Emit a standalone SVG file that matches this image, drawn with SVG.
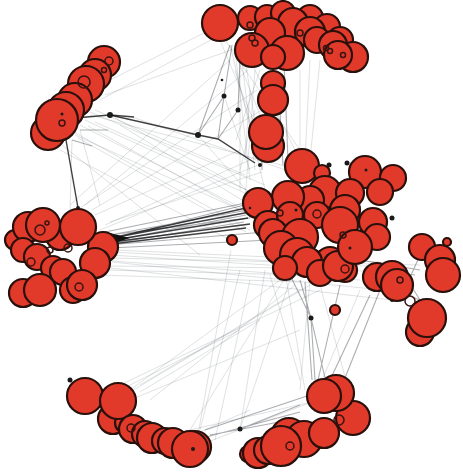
<svg xmlns="http://www.w3.org/2000/svg" width="463" height="472" viewBox="0 0 463 472">
<style>
.n{fill:#e1392a;stroke:#2a100b;stroke-width:2.2}
.r{fill:none;stroke:#3a1410;stroke-width:1.5}
.d{fill:#1a1a1a}
.e{stroke:#1e2a34;stroke-opacity:0.16;stroke-width:0.9;fill:none}
.m{stroke:#101820;stroke-opacity:0.35;stroke-width:1.1;fill:none}
.b{stroke:#000;stroke-opacity:0.75;stroke-width:1.4;fill:none}
</style>
<rect width="463" height="472" fill="#fff"/>
<g id="edges">
<!-- left cluster to right-center bundle -->
<path class="b" d="M112 238L250 212M114 240L248 218M112 242L250 224M116 237L255 206M112 244L246 228"/>
<path class="m" d="M105 232L260 200M108 245L265 232M110 248L270 240M100 236L250 218M115 234L248 210M110 241L246 215M112 239L252 203M115 243L244 222"/>
<polygon points="102,231 130,238 102,247" fill="#111"/>
<path class="e" d="M110 255L378 272M112 262L382 290M108 266L300 268M105 270L340 276M115 250L380 262M110 258L420 265M100 275L300 282M110 268L392 300M112 252L400 268M100 260L360 280"/>
<!-- top-left hub -->
<path class="b" d="M75 118L110 115L198 135L218 139L255 163"/>
<path class="b" d="M110 115L134 117" stroke-width="2.5"/>
<path class="b" d="M66 140L78 208" stroke-width="1.6"/>
<path class="m" d="M198 135L224 96L232 45M218 139L224 96M218 139L238 110L240 60M198 135L230 45M80 130L108 130M72 140L92 146"/>
<path class="e" d="M85 120L260 200M80 125L255 215M70 130L250 230M90 112L265 185M95 110L245 175M75 135L240 210M100 100L220 35M105 95L245 45M110 80L210 30M90 115L300 170M72 140L70 210M80 130L100 205M198 135L255 200M224 96L250 170M95 122L258 195M88 126L262 222M78 138L246 232M100 230L258 165M105 225L250 160M110 222L262 172M95 215L240 150M80 208L257 90M85 205L248 70M92 210L262 110M70 205L230 60M115 118L246 190M120 125L250 205M62 145L200 255M60 150L230 240M132 117L300 175"/>
<!-- top cluster to center -->
<path class="m" d="M284 62L288 160M280 112L283 165M262 150L262 170"/>
<path class="e" d="M240 45L255 170M235 50L250 180M245 60L262 165M250 60L300 160M230 45L265 190M300 70L300 155M310 60L305 160M320 60L310 160M240 40L240 190M255 70L245 200M220 40L270 160M225 40L300 150M238 60L262 120M235 70L258 150M250 90L245 160M255 110L240 170M260 70L236 140"/>
<!-- right center to right cluster -->
<path class="m" d="M360 260L420 270M370 270L415 275M380 285L420 300M395 260L420 300M400 300L420 255"/>
<!-- center to bottom -->
<path class="m" d="M300 280L311 318L325 378M290 275L311 318L315 380M340 285L318 380M380 290L345 378M370 295L330 380M305 282L312 380"/>
<path class="e" d="M310 280L300 390M320 285L350 395M360 290L320 385M231 250L197 440M240 270L200 430M290 270L190 430M300 290L140 385M310 285L125 395M320 290L120 385M290 280L240 429M250 280L215 440M280 280L130 390M295 285L150 400M270 275L300 380M285 272L305 390M265 270L240 430"/>
<!-- bottom clusters -->
<path class="m" d="M195 440L300 412M210 435L290 420M240 429L300 405M205 430L310 395"/>
<path class="e" d="M200 445L330 395M190 430L320 400M130 400L300 330M200 432L250 410M120 390L240 330M140 392L260 320"/>
</g>
<g id="hubs">
<circle class="d" cx="110" cy="115" r="3"/>
<circle class="d" cx="198" cy="135" r="3"/>
<circle class="d" cx="224" cy="96" r="2.5"/>
<circle class="d" cx="238" cy="110" r="2.5"/>
<circle class="d" cx="222" cy="80" r="1.3"/>
<circle class="d" cx="78" cy="208" r="2"/>
<circle class="d" cx="311" cy="318" r="2.5"/>
<circle class="d" cx="240" cy="429" r="2.5"/>
<circle class="d" cx="70" cy="380" r="2.5"/>
<circle class="d" cx="329" cy="165" r="2.5"/>
<circle class="d" cx="347" cy="163" r="2.5"/>
<circle class="d" cx="260" cy="165" r="2"/>
<circle class="d" cx="392" cy="218" r="2.5"/>
<circle class="d" cx="392" cy="300" r="2"/>
</g>
<g id="cluster-topleft">
<circle class="n" cx="104" cy="62" r="16"/>
<circle class="n" cx="95" cy="75" r="16"/>
<circle class="n" cx="86" cy="84" r="18"/>
<circle class="n" cx="75" cy="100" r="17"/>
<circle class="n" cx="48" cy="133" r="17"/>
<circle class="n" cx="66" cy="110" r="18"/>
<circle class="n" cx="57" cy="120" r="21"/>
<circle class="r" cx="109" cy="61" r="4"/>
<circle class="r" cx="104" cy="70" r="2.5"/>
<circle class="r" cx="84" cy="82" r="6"/>
<circle class="r" cx="62" cy="123" r="3"/>
<circle class="d" cx="62" cy="114" r="1.5"/>
</g>
<g id="cluster-left">
<circle class="n" cx="15" cy="240" r="10"/>
<circle class="n" cx="28" cy="227" r="15"/>
<circle class="n" cx="60" cy="236" r="14"/>
<circle class="n" cx="103" cy="247" r="15"/>
<circle class="n" cx="43" cy="225" r="17"/>
<circle class="n" cx="78" cy="227" r="18"/>
<circle class="n" cx="23" cy="250" r="12"/>
<circle class="n" cx="37" cy="257" r="13"/>
<circle class="n" cx="53" cy="268" r="12"/>
<circle class="n" cx="63" cy="272" r="13"/>
<circle class="n" cx="95" cy="263" r="15"/>
<circle class="n" cx="23" cy="293" r="14"/>
<circle class="n" cx="40" cy="290" r="16"/>
<circle class="n" cx="73" cy="290" r="13"/>
<circle class="n" cx="82" cy="285" r="15"/>
<circle class="r" cx="40" cy="230" r="5"/>
<circle class="r" cx="47" cy="223" r="2"/>
<circle class="r" cx="31" cy="262" r="4"/>
<circle class="r" cx="79" cy="287" r="4"/>
<circle class="r" cx="68" cy="248" r="4"/>
<circle class="r" cx="50" cy="250" r="3"/>
</g>
<g id="cluster-top">
<circle class="n" cx="220" cy="23" r="18"/>
<circle class="n" cx="250" cy="18" r="12"/>
<circle class="n" cx="267" cy="17" r="12"/>
<circle class="n" cx="283" cy="13" r="12"/>
<circle class="n" cx="310" cy="18" r="13"/>
<circle class="n" cx="327" cy="27" r="13"/>
<circle class="n" cx="293" cy="23" r="15"/>
<circle class="n" cx="270" cy="33" r="15"/>
<circle class="n" cx="310" cy="32" r="15"/>
<circle class="n" cx="340" cy="40" r="13"/>
<circle class="n" cx="317" cy="40" r="13"/>
<circle class="n" cx="333" cy="45" r="14"/>
<circle class="n" cx="353" cy="57" r="15"/>
<circle class="n" cx="338" cy="55" r="14"/>
<circle class="n" cx="252" cy="50" r="17"/>
<circle class="n" cx="287" cy="53" r="17"/>
<circle class="n" cx="273" cy="57" r="12"/>
<circle class="r" cx="250" cy="25" r="3"/>
<circle class="r" cx="252" cy="38" r="3"/>
<circle class="r" cx="255" cy="43" r="3"/>
<circle class="r" cx="300" cy="33" r="3"/>
<circle class="r" cx="326" cy="48" r="2.5"/>
<circle class="r" cx="330" cy="51" r="2.5"/>
<circle class="r" cx="343" cy="55" r="2.5"/>
</g>
<g id="cluster-stem">
<circle class="n" cx="273" cy="83" r="12"/>
<circle class="n" cx="273" cy="100" r="15"/>
<circle class="n" cx="268" cy="146" r="16"/>
<circle class="n" cx="266" cy="132" r="17"/>
</g>
<g id="cluster-center">
<circle class="n" cx="302" cy="166" r="17"/>
<circle class="n" cx="365" cy="172" r="16"/>
<circle class="n" cx="393" cy="178" r="13"/>
<circle class="n" cx="322" cy="173" r="8"/>
<circle class="n" cx="325" cy="192" r="16"/>
<circle class="n" cx="350" cy="193" r="14"/>
<circle class="n" cx="380" cy="192" r="13"/>
<circle class="n" cx="310" cy="200" r="14"/>
<circle class="n" cx="345" cy="210" r="15"/>
<circle class="n" cx="288" cy="197" r="16"/>
<circle class="n" cx="258" cy="203" r="15"/>
<circle class="n" cx="373" cy="222" r="14"/>
<circle class="n" cx="268" cy="225" r="14"/>
<circle class="n" cx="317" cy="215" r="13"/>
<circle class="n" cx="340" cy="225" r="18"/>
<circle class="n" cx="290" cy="215" r="13"/>
<circle class="n" cx="273" cy="233" r="14"/>
<circle class="n" cx="377" cy="237" r="13"/>
<circle class="n" cx="300" cy="237" r="18"/>
<circle class="n" cx="281" cy="248" r="17"/>
<circle class="n" cx="297" cy="255" r="17"/>
<circle class="n" cx="330" cy="262" r="15"/>
<circle class="n" cx="307" cy="262" r="15"/>
<circle class="n" cx="285" cy="268" r="12"/>
<circle class="n" cx="345" cy="270" r="12"/>
<circle class="n" cx="320" cy="273" r="13"/>
<circle class="n" cx="338" cy="266" r="15"/>
<circle class="n" cx="355" cy="247" r="17"/>
<circle class="r" cx="280" cy="213" r="3"/>
<circle class="r" cx="317" cy="214" r="4"/>
<circle class="r" cx="345" cy="269" r="4"/>
<circle class="r" cx="343" cy="235" r="3"/>
<circle class="d" cx="296" cy="210" r="1.5"/>
<circle class="d" cx="366" cy="170" r="1.5"/>
<circle class="d" cx="350" cy="248" r="1.5"/>
<circle class="d" cx="250" cy="208" r="1.3"/>
</g>
<g id="cluster-right">
<circle class="n" cx="377" cy="277" r="14"/>
<circle class="n" cx="392" cy="277" r="16"/>
<circle class="n" cx="397" cy="285" r="16"/>
<circle class="n" cx="422" cy="247" r="13"/>
<circle class="n" cx="440" cy="260" r="15"/>
<circle class="n" cx="443" cy="275" r="17"/>
<circle class="n" cx="420" cy="332" r="14"/>
<circle class="n" cx="427" cy="318" r="19"/>
<circle class="r" cx="410" cy="301" r="5"/>
<circle class="n" cx="447" cy="242" r="4"/>
<circle class="r" cx="400" cy="280" r="3"/>
</g>
<g id="cluster-bottomleft">
<circle class="n" cx="75" cy="388" r="5"/>
<circle class="n" cx="85" cy="396" r="18"/>
<circle class="n" cx="113" cy="419" r="15"/>
<circle class="n" cx="125" cy="423" r="10"/>
<circle class="n" cx="118" cy="401" r="18"/>
<circle class="n" cx="133" cy="429" r="14"/>
<circle class="n" cx="145" cy="434" r="13"/>
<circle class="n" cx="152" cy="438" r="15"/>
<circle class="n" cx="165" cy="441" r="13"/>
<circle class="n" cx="173" cy="443" r="15"/>
<circle class="n" cx="195" cy="447" r="16"/>
<circle class="n" cx="190" cy="449" r="18"/>
<circle class="r" cx="131" cy="428" r="4"/>
<circle class="d" cx="193" cy="449" r="2"/>
</g>
<g id="cluster-bottomright">
<circle class="n" cx="248" cy="454" r="8"/>
<circle class="n" cx="258" cy="453" r="15"/>
<circle class="n" cx="268" cy="450" r="14"/>
<circle class="n" cx="289" cy="436" r="18"/>
<circle class="n" cx="304" cy="439" r="18"/>
<circle class="n" cx="281" cy="446" r="20"/>
<circle class="n" cx="324" cy="433" r="15"/>
<circle class="n" cx="353" cy="418" r="17"/>
<circle class="n" cx="336" cy="393" r="18"/>
<circle class="n" cx="324" cy="396" r="17"/>
<circle class="r" cx="339" cy="420" r="5"/>
<circle class="r" cx="290" cy="446" r="4"/>
</g>
<g id="singles">
<circle class="n" cx="232" cy="240" r="5"/>
<circle class="n" cx="335" cy="310" r="5"/>
</g>
</svg>
